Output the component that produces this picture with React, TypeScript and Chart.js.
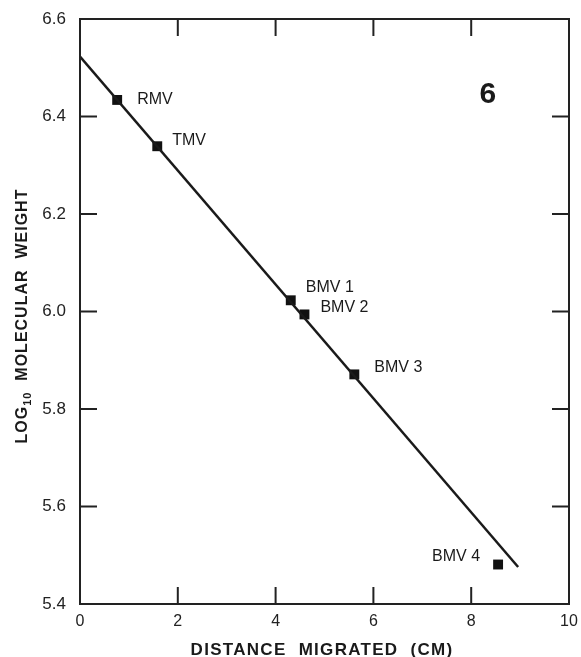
import React, { useEffect, useRef } from "react";
import { Chart, registerables } from "chart.js";

Chart.register(...registerables);

// Data
const virusNames = ["RMV", "TMV", "BMV 1", "BMV 2", "BMV 3", "BMV 4"];
const distanceCm = [0.76, 1.58, 4.31, 4.59, 5.61, 8.55];
const logMW = [6.434, 6.339, 6.023, 5.994, 5.871, 5.481];
const fitX = [0, 8.96];
const fitY = [6.523, 5.476];
const xTicks = [0, 2, 4, 6, 8, 10];
const yTicks = [5.4, 5.6, 5.8, 6.0, 6.2, 6.4, 6.6];
const panelLabel = "6";
const panelLabelPos = { x: 8.34, y: 6.445 };

// Label placement (pixel offsets from each point) – styling only
const labelOffsets = [
  { dx: 20, dy: 0, align: "left" },
  { dx: 15, dy: -6, align: "left" },
  { dx: 15, dy: -13, align: "left" },
  { dx: 16, dy: -7, align: "left" },
  { dx: 20, dy: -7, align: "left" },
  { dx: -18, dy: -8, align: "right" },
];

const INK = "#1a1a1a";
const FONT = "'Liberation Sans', Arial, Helvetica, sans-serif";

const framePlugin = {
  id: "frame",
  afterDraw(chart: any) {
    const { ctx, chartArea: a, scales } = chart;
    const xs = scales.x;
    const ys = scales.y;
    ctx.save();
    ctx.strokeStyle = "#222";
    ctx.lineWidth = 2;
    ctx.strokeRect(a.left, a.top, a.right - a.left, a.bottom - a.top);
    const tl = 17;
    ctx.beginPath();
    xTicks.forEach((t) => {
      const px = xs.getPixelForValue(t);
      ctx.moveTo(px, a.bottom);
      ctx.lineTo(px, a.bottom - tl);
      ctx.moveTo(px, a.top);
      ctx.lineTo(px, a.top + tl);
    });
    yTicks.forEach((t) => {
      const py = ys.getPixelForValue(t);
      ctx.moveTo(a.left, py);
      ctx.lineTo(a.left + tl, py);
      ctx.moveTo(a.right, py);
      ctx.lineTo(a.right - tl, py);
    });
    ctx.stroke();

    // point labels
    ctx.fillStyle = INK;
    ctx.font = `16px ${FONT}`;
    ctx.textBaseline = "middle";
    virusNames.forEach((name, i) => {
      const px = xs.getPixelForValue(distanceCm[i]);
      const py = ys.getPixelForValue(logMW[i]);
      const o = labelOffsets[i];
      ctx.textAlign = o.align;
      ctx.fillText(name, px + o.dx, py + o.dy);
    });

    // panel number
    ctx.font = `bold 30px ${FONT}`;
    ctx.textAlign = "center";
    ctx.fillText(panelLabel, xs.getPixelForValue(panelLabelPos.x), ys.getPixelForValue(panelLabelPos.y));

    // x title
    ctx.font = `bold 17px ${FONT}`;
    (ctx as any).letterSpacing = "1.3px";
    ctx.textAlign = "center";
    ctx.fillText("DISTANCE  MIGRATED  (CM)", 322, 650);

    // y title with subscript
    (ctx as any).letterSpacing = "1px";
    const big = `bold 16px ${FONT}`;
    const small = `bold 11px ${FONT}`;
    const p1 = "LOG";
    const p2 = "10";
    const p3 = "  MOLECULAR  WEIGHT";
    ctx.font = big;
    const w1 = ctx.measureText(p1).width;
    const w3 = ctx.measureText(p3).width;
    ctx.font = small;
    const w2 = ctx.measureText(p2).width;
    const total = w1 + w2 + w3;
    const cy = 316;
    ctx.translate(23, cy);
    ctx.rotate(-Math.PI / 2);
    ctx.textAlign = "left";
    let x0 = -total / 2;
    ctx.font = big;
    ctx.fillText(p1, x0, 0);
    x0 += w1;
    ctx.font = small;
    ctx.fillText(p2, x0, 5);
    x0 += w2;
    ctx.font = big;
    ctx.fillText(p3, x0, 0);
    (ctx as any).letterSpacing = "0px";
    ctx.restore();
  },
};

export default function App() {
  const ref = useRef<HTMLCanvasElement>(null);
  useEffect(() => {
    if (!ref.current) return;
    const chart = new Chart(ref.current, {
      type: "scatter",
      data: {
        datasets: [
          {
            label: "fit",
            data: fitX.map((x, i) => ({ x, y: fitY[i] })),
            showLine: true,
            borderColor: INK,
            borderWidth: 2.5,
            pointRadius: 0,
          },
          {
            label: "viruses",
            data: distanceCm.map((x, i) => ({ x, y: logMW[i] })),
            pointStyle: "rect",
            pointRadius: 7,
            pointBorderWidth: 0,
            backgroundColor: "#111",
            borderColor: "#111",
          },
        ],
      },
      options: {
        animation: false,
        responsive: false,
        layout: { padding: { top: 19, right: 12, left: 0, bottom: 0 } },
        plugins: { legend: { display: false }, tooltip: { enabled: false } },
        scales: {
          x: {
            type: "linear",
            min: 0,
            max: 10,
            afterFit: (s: any) => {
              s.height = 53;
              s.paddingLeft = 0;
              s.paddingRight = 0;
            },
            afterBuildTicks: (s: any) => {
              s.ticks = xTicks.map((v) => ({ value: v }));
            },
            grid: { display: false, drawTicks: false },
            border: { display: false },
            ticks: {
              padding: 8,
              color: "#222",
              font: { family: FONT, size: 16 },
              callback: (v: any) => String(v),
            },
          },
          y: {
            type: "linear",
            min: 5.4,
            max: 6.6,
            afterFit: (s: any) => {
              s.width = 80;
              s.paddingTop = 0;
              s.paddingBottom = 0;
            },
            afterBuildTicks: (s: any) => {
              s.ticks = yTicks.map((v) => ({ value: v }));
            },
            grid: { display: false, drawTicks: false },
            border: { display: false },
            ticks: {
              padding: 14,
              color: "#222",
              font: { family: FONT, size: 17 },
              callback: (v: any) => Number(v).toFixed(1),
            },
          },
        },
      },
      plugins: [framePlugin],
    });
    return () => chart.destroy();
  }, []);
  return (
    <div style={{ position: "absolute", left: 0, top: 0, width: 581, height: 657, background: "#fff" }}>
      <canvas ref={ref} width={581} height={657} />
    </div>
  );
}
